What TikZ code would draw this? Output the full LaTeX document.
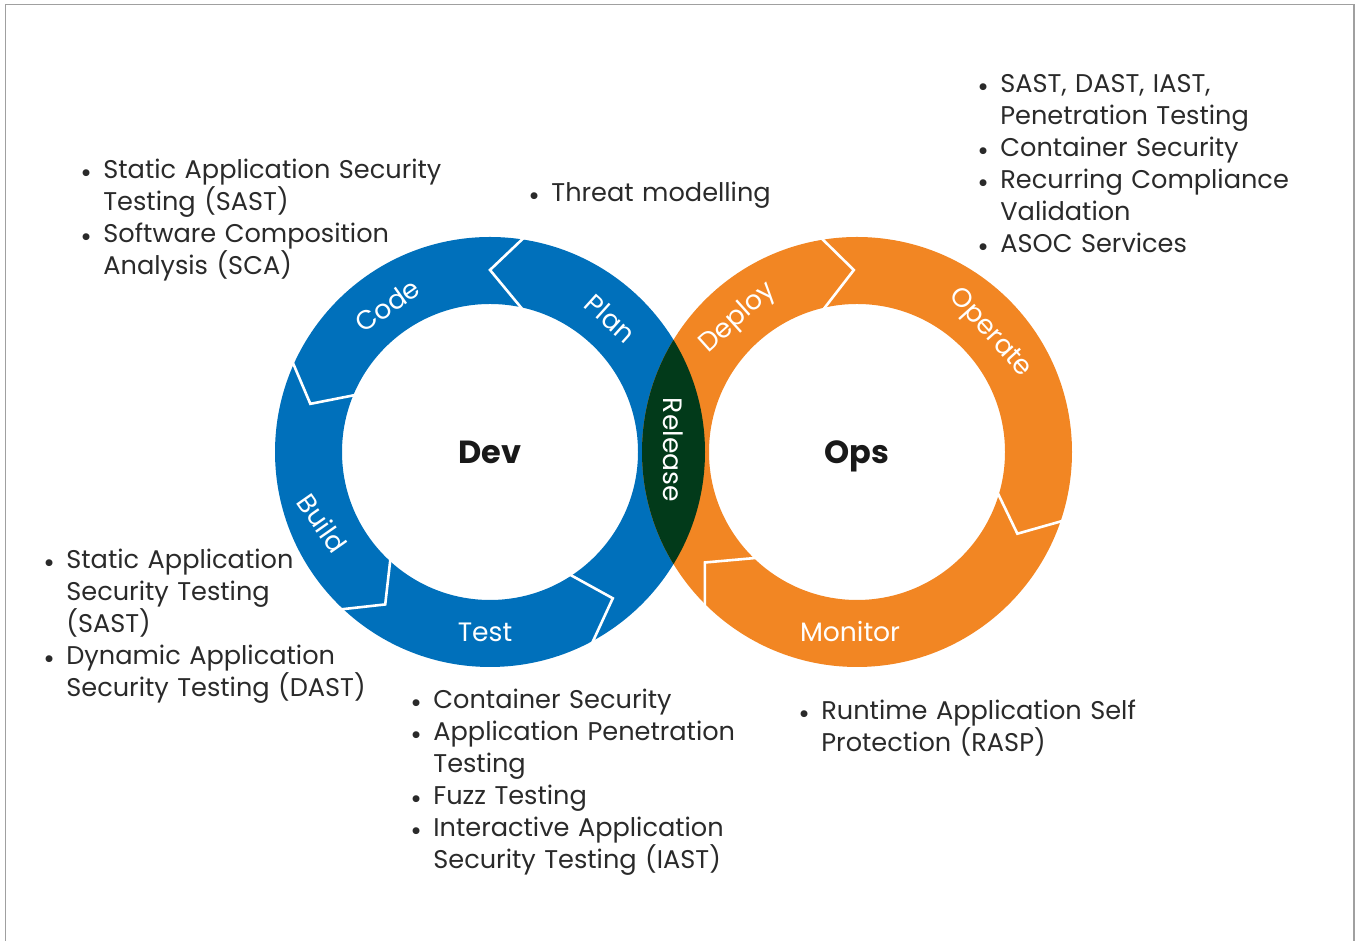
\documentclass[tikz,border=0pt]{standalone}
\usepackage{fontspec}
\setmainfont{Poppins}
\usetikzlibrary{calc,positioning}

\definecolor{devblue}{RGB}{0,112,187}
\definecolor{opsorange}{RGB}{242,134,35}
\definecolor{lensgreen}{RGB}{2,58,26}
\definecolor{bodytext}{RGB}{42,42,42}
\definecolor{framegray}{RGB}{160,160,160}

\newcommand{\bul}{\makebox[11.5pt][l]{\raisebox{-1.6pt}{\fontsize{14}{14}\selectfont\textbullet}}}
\newcommand{\nob}{\makebox[11.5pt]{}}

\begin{document}
\begin{tikzpicture}[x=0.5pt,y=0.5pt,
  ringlabel/.style={text=white,font=\fontsize{13.3}{13.3}\selectfont,inner sep=0pt},
  hub/.style={text=black!90,font=\fontsize{16}{16}\selectfont\bfseries,inner sep=0pt,text depth=0pt},
  bullets/.style={text=bodytext,font=\fontsize{12.8}{16}\selectfont,inner sep=0pt,
    anchor=base west,text width=190pt,align=left},
  chevline/.style={white,line width=1.3pt,line join=miter}]

\useasboundingbox (0,0) rectangle (1356,941);
\draw[framegray,line width=0.8pt] (5.5,0) -- (5.5,936.5) -- (1354,936.5) -- (1354,0);

\coordinate (dev) at (490,489);
\coordinate (ops) at (857,489);

% the two rings and the release lens
\fill[devblue,even odd rule] (dev) circle (215) (dev) circle (148);
\fill[opsorange,even odd rule] (ops) circle (215) (ops) circle (148);
\begin{scope}
\clip (dev) circle (215);
\fill[lensgreen] (ops) circle (215);
\end{scope}

% chevrons, dev side
\draw[chevline] ([shift={(81:217)}]dev) -- ([shift={(90:182)}]dev) -- ([shift={(77:146)}]dev);
\draw[chevline] ([shift={(155.5:217)}]dev) -- ([shift={(165:186)}]dev) -- ([shift={(157:146)}]dev);
\draw[chevline] ([shift={(226.5:217)}]dev) -- ([shift={(235.5:185)}]dev) -- ([shift={(227:146)}]dev);
\draw[chevline] ([shift={(298:217)}]dev) -- ([shift={(310:191)}]dev) -- ([shift={(303:146)}]dev);
% chevrons, ops side
\draw[chevline] ([shift={(99.5:217)}]ops) -- ([shift={(91:182)}]ops) -- ([shift={(103.5:146)}]ops);
\draw[chevline] ([shift={(-18.5:217)}]ops) -- ([shift={(-27:180)}]ops) -- ([shift={(-16:146)}]ops);
\draw[chevline] ([shift={(225.5:217)}]ops) -- ([shift={(216:188)}]ops) -- ([shift={(226.5:146)}]ops);

% ring labels
\node[ringlabel,rotate=35] (code) at ([shift={(125:179)}]dev) {Code};
\node[ringlabel,rotate=-42] (plan) at ([shift={(48:180)}]dev) {Plan};
\node[ringlabel,rotate=-55] (build) at ([shift={(203:182)}]dev) {Build};
\node[ringlabel] (test) at ([shift={(268.4:180)}]dev) {Test};
\node[ringlabel,rotate=-90] (release) at (673.5,491) {Release};
\node[ringlabel,rotate=42] (deploy) at ([shift={(131.6:179)}]ops) {Deploy};
\node[ringlabel,rotate=-48] (operate) at ([shift={(41.8:178)}]ops) {Operate};
\node[ringlabel] (monitor) at ([shift={(267.8:180)}]ops) {Monitor};

\node[hub] (devhub) at (dev) {Dev};
\node[hub] (opshub) at (ops) {Ops};

% security activities
\node[bullets] (codesec) at (80,762) {\bul Static Application Security\\
\nob Testing (SAST)\\
\bul Software Composition\\
\nob Analysis (SCA)};
\node[bullets] (plansec) at (528,739) {\bul Threat modelling};
\node[bullets] (opersec) at (977,848) {\bul SAST, DAST, IAST,\\
\nob Penetration Testing\\
\bul Container Security\\
\bul Recurring Compliance\\
\nob Validation\\
\bul ASOC Services};
\node[bullets] (buildsec) at (43,372) {\bul Static Application\\
\nob Security Testing\\
\nob (SAST)\\
\bul Dynamic Application\\
\nob Security Testing (DAST)};
\node[bullets] (testsec) at (410,232) {\bul Container Security\\
\bul Application Penetration\\
\nob Testing\\
\bul Fuzz Testing\\
\bul Interactive Application\\
\nob Security Testing (IAST)};
\node[bullets] (monsec) at (798,221) {\bul Runtime Application Self\\
\nob Protection (RASP)};
\end{tikzpicture}
\end{document}
